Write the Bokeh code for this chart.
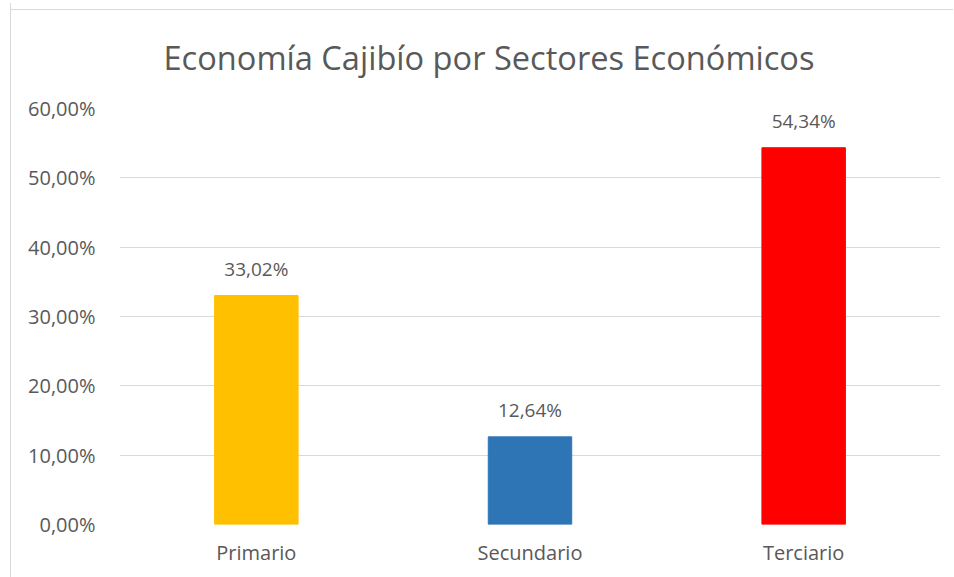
from bokeh.plotting import figure
from bokeh.models import ColumnDataSource, FixedTicker, Title, FactorRange, Range1d
from bokeh.core.properties import value
from bokeh.embed import file_html
from bokeh.resources import INLINE

# ---- data ----
categories = ["Primario", "Secundario", "Terciario"]
shares = [33.02, 12.64, 54.34]
bar_colors = ["#FFC000", "#2E75B6", "#FF0000"]
y_ticks = [0, 10, 20, 30, 40, 50, 60]
y_tick_labels = ["0,00%", "10,00%", "20,00%", "30,00%", "40,00%", "50,00%", "60,00%"]
title_text = "Economía Cajibío por Sectores Económicos"

labels = [f"{v:.2f}".replace(".", ",") + "%" for v in shares]
src = ColumnDataSource(dict(cat=categories, val=shares, color=bar_colors, lab=labels))

TEXT = "#595959"
FONT = "Open Sans"

p = figure(
    width=943, height=574,
    x_range=FactorRange(*categories, range_padding=0),
    y_range=Range1d(0, 60),
    output_backend="svg", toolbar_location=None,
    min_border_left=108, min_border_right=14, min_border_top=105, min_border_bottom=53,
)
p.styles = {"margin-left": "10px", "margin-top": "3px",
            "border-left": "1px solid #D9D9D9",
            "background": "linear-gradient(#D9D9D9, #D9D9D9) 0 6px / 100% 1px no-repeat"}
p.outline_line_color = None
p.background_fill_color = "white"
p.border_fill_color = None

p.vbar(x="cat", top="val", width=0.305, color="color", source=src)
p.text(x="cat", y="val", text="lab", source=src, y_offset=-14,
       text_align="center", text_baseline="bottom",
       text_font=value(FONT), text_font_size="19px", text_color=TEXT)

# axes
p.yaxis.ticker = FixedTicker(ticks=y_ticks)
p.yaxis.major_label_overrides = {t: l for t, l in zip(y_ticks, y_tick_labels)}
for ax in (p.xaxis[0], p.yaxis[0]):
    ax.axis_line_color = None
    ax.major_tick_line_color = None
    ax.minor_tick_line_color = None
    ax.major_label_text_color = TEXT
    ax.major_label_text_font = FONT
    ax.major_label_text_font_size = "20px"
p.yaxis.major_label_standoff = 18
p.xaxis.major_label_standoff = 8

p.xgrid.grid_line_color = None
p.ygrid.grid_line_color = "#D9D9D9"
p.ygrid.grid_line_width = 1

t = Title(text=title_text, align="left", offset=44, standoff=58,
          text_font=FONT, text_font_size="32.6px",
          text_font_style="normal", text_color=TEXT)
p.title = t

open("out.html", "w").write(file_html(p, INLINE))
